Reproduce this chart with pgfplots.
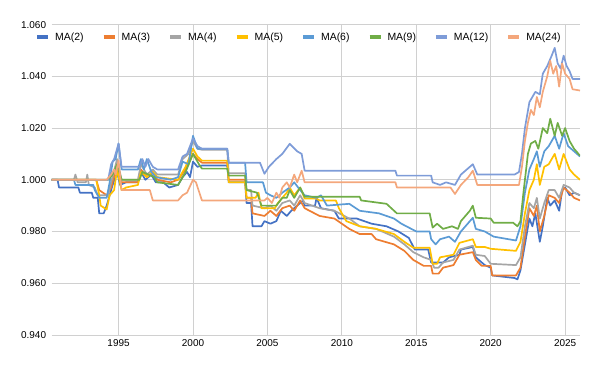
\documentclass[border=0pt]{standalone}
\usepackage{fontspec}
\setmainfont{Liberation Sans}
\usepackage{pgfplots}
\pgfplotsset{compat=1.18}
\definecolor{cA}{HTML}{4472C4}
\definecolor{cB}{HTML}{ED7D31}
\definecolor{cC}{HTML}{A5A5A5}
\definecolor{cD}{HTML}{FFC000}
\definecolor{cE}{HTML}{5B9BD5}
\definecolor{cF}{HTML}{70AD47}
\definecolor{cG}{HTML}{7E9CD8}
\definecolor{cH}{HTML}{F4A77C}
\definecolor{gridc}{HTML}{D0D0D0}
\begin{document}
\begin{tikzpicture}
\begin{axis}[name=ax, at={(0,0)}, anchor=south west,
  scale only axis, width=528.4bp, height=310.3bp,
  xmin=1990.5, xmax=2026.0, ymin=0.94, ymax=1.06,
  xtick={1995,2000,2005,2010,2015,2020,2025},
  ytick={0.94,0.96,0.98,1.00,1.02,1.04,1.06},
  axis line style={draw=none}, major tick length=0pt,
  grid=major, major grid style={gridc, line width=0.8bp},
  /pgf/number format/assume math mode=true,
  xticklabel style={font=\fontsize{10}{11}\selectfont, /pgf/number format/set thousands separator={}, yshift=-1bp},
  yticklabel style={font=\fontsize{10}{11}\selectfont, xshift=-2bp, /pgf/number format/.cd, fixed, fixed zerofill, precision=3},
  every axis plot/.append style={line width=1.7bp, line join=round},
  legend columns=8,
  legend style={draw=none, fill=none, at={(0.468,0.959)}, anchor=center,
    font=\fontsize{10.5}{12}\selectfont,
    /tikz/every odd column/.append style={column sep=3bp},
    /tikz/every even column/.append style={column sep=16bp}},
  legend image code/.code={\draw[line width=4bp] (0bp,0bp) -- (11bp,0bp);},
]
\addplot[cA] coordinates {(1990.5,1.000)(1990.9,1.000)(1991.0,0.997)(1992.3,0.997)(1992.4,0.995)(1993.2,0.995)(1993.3,0.993)(1993.6,0.993)(1993.7,0.987)(1994.0,0.987)(1994.2,0.990)(1994.4,0.994)(1994.6,0.998)(1994.9,1.003)(1995.1,0.998)(1995.5,0.999)(1996.3,0.999)(1996.5,1.003)(1996.8,1.000)(1997.2,1.002)(1997.5,0.999)(1998.0,0.999)(1998.4,0.997)(1999.0,0.998)(1999.3,1.001)(1999.6,1.003)(1999.8,1.001)(2000.0,1.007)(2000.3,1.005)(2000.6,1.0055)(2002.3,1.0055)(2002.4,0.999)(2003.5,0.999)(2003.6,0.991)(2003.9,0.991)(2004.0,0.982)(2004.6,0.982)(2004.8,0.984)(2005.2,0.983)(2005.6,0.984)(2005.9,0.988)(2006.3,0.986)(2006.6,0.988)(2007.0,0.990)(2007.4,0.992)(2007.5,0.990)(2008.2,0.990)(2008.3,0.993)(2008.6,0.989)(2009.5,0.988)(2009.8,0.985)(2011.0,0.985)(2012.0,0.983)(2013.0,0.982)(2013.8,0.980)(2014.5,0.9775)(2014.9,0.973)(2015.8,0.973)(2016.0,0.968)(2016.8,0.968)(2017.2,0.970)(2017.9,0.971)(2018.0,0.973)(2018.8,0.974)(2019.0,0.970)(2019.6,0.967)(2020.0,0.966)(2020.1,0.963)(2021.6,0.962)(2021.8,0.9615)(2022.0,0.965)(2022.3,0.975)(2022.6,0.985)(2022.8,0.982)(2023.0,0.987)(2023.3,0.976)(2023.5,0.982)(2023.8,0.993)(2024.0,0.990)(2024.3,0.992)(2024.6,0.988)(2024.8,0.996)(2025.0,0.997)(2025.3,0.994)(2025.6,0.995)(2026.0,0.994)};
\addlegendentry{MA(2)}
\addplot[cB] coordinates {(1990.5,1.000)(1993.5,1.000)(1993.7,0.996)(1994.2,0.994)(1994.5,0.997)(1994.9,1.006)(1995.2,0.999)(1996.3,0.999)(1996.5,1.004)(1996.9,1.001)(1997.3,1.003)(1997.6,1.000)(1998.5,0.999)(1999.0,1.000)(1999.5,1.004)(2000.0,1.010)(2000.3,1.008)(2000.6,1.0066)(2002.3,1.0066)(2002.4,1.000)(2003.5,1.000)(2003.6,0.993)(2003.9,0.993)(2004.0,0.987)(2004.8,0.986)(2005.2,0.988)(2005.6,0.986)(2006.0,0.989)(2006.5,0.990)(2006.8,0.988)(2007.2,0.992)(2007.5,0.989)(2008.5,0.986)(2009.5,0.985)(2010.0,0.983)(2010.5,0.981)(2011.2,0.979)(2012.0,0.979)(2012.3,0.977)(2013.5,0.975)(2014.2,0.9725)(2014.8,0.969)(2015.5,0.9667)(2016.0,0.9667)(2016.1,0.9637)(2016.5,0.9637)(2016.8,0.966)(2017.5,0.967)(2017.9,0.971)(2018.8,0.972)(2019.0,0.969)(2019.4,0.9667)(2020.0,0.9667)(2020.1,0.963)(2021.7,0.963)(2022.0,0.966)(2022.3,0.978)(2022.6,0.989)(2022.9,0.986)(2023.1,0.990)(2023.3,0.980)(2023.6,0.986)(2023.9,0.994)(2024.3,0.993)(2024.6,0.991)(2024.9,0.997)(2025.3,0.995)(2025.6,0.993)(2026.0,0.992)};
\addlegendentry{MA(3)}
\addplot[cC] coordinates {(1990.5,1.000)(1992.0,1.000)(1992.1,1.002)(1992.25,0.999)(1992.8,0.999)(1992.9,1.002)(1993.0,0.998)(1993.4,0.997)(1993.6,0.994)(1994.3,0.994)(1994.5,0.999)(1994.9,1.008)(1995.2,1.000)(1996.3,1.000)(1996.5,1.006)(1996.9,1.002)(1997.3,1.004)(1997.6,1.002)(1999.0,1.002)(1999.3,1.008)(1999.7,1.010)(2000.0,1.015)(2000.3,1.012)(2000.6,1.0116)(2002.3,1.0116)(2002.4,1.0025)(2003.5,1.0025)(2003.6,0.996)(2003.9,0.996)(2004.0,0.990)(2004.8,0.989)(2005.2,0.990)(2005.6,0.988)(2006.0,0.991)(2006.5,0.992)(2006.8,0.990)(2007.2,0.994)(2007.5,0.991)(2008.5,0.989)(2009.5,0.988)(2010.5,0.985)(2011.2,0.982)(2012.3,0.981)(2013.5,0.978)(2014.2,0.975)(2014.8,0.972)(2015.5,0.970)(2016.0,0.969)(2016.2,0.966)(2016.5,0.966)(2016.8,0.968)(2017.5,0.969)(2017.9,0.973)(2018.8,0.9745)(2019.0,0.971)(2019.6,0.9705)(2020.0,0.9675)(2021.7,0.967)(2022.0,0.970)(2022.3,0.982)(2022.6,0.991)(2022.9,0.989)(2023.1,0.993)(2023.3,0.985)(2023.6,0.991)(2023.9,0.996)(2024.3,0.996)(2024.6,0.993)(2024.9,0.998)(2025.3,0.997)(2025.6,0.995)(2026.0,0.994)};
\addlegendentry{MA(4)}
\addplot[cD] coordinates {(1990.5,1.000)(1993.5,1.000)(1993.7,0.994)(1993.8,0.990)(1994.2,0.9885)(1994.4,0.994)(1994.7,0.996)(1994.9,1.004)(1995.2,0.996)(1995.5,0.997)(1996.3,0.998)(1996.5,1.003)(1996.9,1.001)(1997.3,1.003)(1997.6,1.001)(1999.0,1.000)(1999.5,1.005)(2000.0,1.012)(2000.3,1.009)(2000.6,1.0074)(2002.3,1.0074)(2002.4,0.999)(2003.5,0.999)(2003.6,0.993)(2004.2,0.993)(2004.4,0.995)(2004.6,0.989)(2005.5,0.989)(2005.7,0.991)(2006.3,0.995)(2006.5,0.997)(2006.8,0.994)(2007.2,0.997)(2007.5,0.9927)(2008.3,0.9927)(2008.5,0.992)(2009.6,0.992)(2009.8,0.989)(2010.3,0.984)(2011.2,0.982)(2012.3,0.981)(2013.5,0.979)(2014.2,0.976)(2014.8,0.9737)(2015.9,0.9737)(2016.1,0.9675)(2016.4,0.9675)(2016.6,0.970)(2017.5,0.971)(2017.9,0.9756)(2018.8,0.977)(2019.0,0.974)(2019.6,0.974)(2020.0,0.9733)(2021.7,0.9725)(2022.0,0.976)(2022.3,0.987)(2022.6,0.996)(2022.9,1.000)(2023.1,1.006)(2023.3,0.998)(2023.6,1.005)(2023.9,1.006)(2024.3,1.010)(2024.6,1.004)(2024.9,1.010)(2025.3,1.004)(2025.6,1.002)(2026.0,1.000)};
\addlegendentry{MA(5)}
\addplot[cE] coordinates {(1990.5,1.000)(1992.0,1.000)(1992.1,0.998)(1993.3,0.998)(1993.4,0.996)(1993.7,0.993)(1994.2,0.993)(1994.4,0.999)(1994.6,1.007)(1994.8,1.008)(1995.0,1.014)(1995.2,1.004)(1996.3,1.004)(1996.5,1.008)(1996.7,1.004)(1996.9,1.008)(1997.2,1.003)(1997.5,1.001)(1998.5,1.000)(1999.0,1.001)(1999.3,1.007)(1999.7,1.006)(2000.0,1.017)(2000.3,1.012)(2000.6,1.012)(2002.3,1.012)(2002.4,1.0066)(2003.5,1.0066)(2003.6,0.999)(2004.7,0.999)(2004.9,0.995)(2005.2,0.994)(2005.6,0.993)(2006.0,0.995)(2006.5,0.997)(2006.8,0.999)(2007.2,0.996)(2007.5,0.994)(2008.3,0.993)(2008.6,0.994)(2009.0,0.990)(2010.5,0.9907)(2011.2,0.988)(2012.5,0.987)(2013.5,0.985)(2014.0,0.983)(2014.5,0.9815)(2015.0,0.980)(2015.9,0.980)(2016.0,0.977)(2016.3,0.975)(2016.6,0.977)(2017.2,0.978)(2017.6,0.976)(2018.0,0.980)(2018.8,0.9853)(2019.0,0.981)(2019.6,0.980)(2020.2,0.978)(2021.7,0.9765)(2022.0,0.982)(2022.3,0.995)(2022.6,1.004)(2022.9,1.008)(2023.1,1.011)(2023.3,1.005)(2023.6,1.011)(2023.9,1.013)(2024.3,1.017)(2024.6,1.012)(2024.9,1.018)(2025.2,1.013)(2025.6,1.011)(2026.0,1.009)};
\addlegendentry{MA(6)}
\addplot[cF] coordinates {(1990.5,1.000)(1994.3,1.000)(1994.6,1.002)(1994.9,1.006)(1995.2,1.000)(1996.4,1.000)(1996.6,1.003)(1997.0,1.002)(1997.4,1.001)(1997.6,0.999)(1999.0,0.998)(1999.5,1.003)(2000.0,1.010)(2000.4,1.006)(2000.6,1.0043)(2002.3,1.0043)(2002.4,1.0016)(2003.5,1.0016)(2003.6,0.996)(2004.3,0.995)(2004.6,0.990)(2005.3,0.990)(2005.6,0.990)(2006.0,0.993)(2006.3,0.993)(2006.5,0.996)(2006.8,0.993)(2007.2,0.997)(2007.5,0.9934)(2011.2,0.9934)(2011.3,0.992)(2013.0,0.9907)(2013.7,0.987)(2015.9,0.987)(2016.1,0.9815)(2016.4,0.983)(2016.8,0.981)(2017.4,0.982)(2017.8,0.981)(2018.0,0.984)(2018.6,0.988)(2018.8,0.990)(2019.0,0.9853)(2020.0,0.985)(2020.2,0.9834)(2021.5,0.9834)(2021.8,0.982)(2022.0,0.984)(2022.2,0.995)(2022.5,1.010)(2022.7,1.014)(2023.0,1.015)(2023.2,1.012)(2023.5,1.020)(2023.8,1.018)(2024.0,1.0236)(2024.3,1.017)(2024.5,1.022)(2024.8,1.017)(2025.0,1.020)(2025.3,1.015)(2025.6,1.012)(2026.0,1.0093)};
\addlegendentry{MA(9)}
\addplot[cG] coordinates {(1990.5,1.000)(1994.3,1.000)(1994.5,1.006)(1994.7,1.008)(1995.0,1.014)(1995.2,1.005)(1996.4,1.005)(1996.6,1.008)(1996.8,1.005)(1997.0,1.008)(1997.3,1.005)(1997.6,1.004)(1999.0,1.004)(1999.3,1.009)(1999.6,1.010)(2000.0,1.016)(2000.3,1.013)(2000.6,1.012)(2002.3,1.012)(2002.4,1.0066)(2004.5,1.0066)(2004.8,1.0023)(2005.1,1.005)(2005.6,1.008)(2006.0,1.010)(2006.5,1.0139)(2007.0,1.011)(2007.3,1.010)(2007.5,1.0035)(2013.6,1.0035)(2013.7,1.0016)(2016.0,1.0016)(2016.1,0.999)(2016.6,0.998)(2017.0,0.999)(2017.6,0.998)(2018.0,1.002)(2018.8,1.006)(2019.1,1.002)(2021.6,1.002)(2021.9,1.003)(2022.1,1.010)(2022.3,1.020)(2022.6,1.030)(2022.8,1.032)(2023.0,1.034)(2023.3,1.033)(2023.5,1.041)(2023.8,1.044)(2024.1,1.048)(2024.3,1.051)(2024.5,1.045)(2024.7,1.043)(2024.9,1.048)(2025.1,1.044)(2025.3,1.042)(2025.5,1.039)(2026.0,1.039)};
\addlegendentry{MA(12)}
\addplot[cH] coordinates {(1990.5,1.000)(1994.2,1.000)(1994.5,1.002)(1994.7,1.004)(1994.8,1.002)(1995.0,1.0075)(1995.2,0.996)(1997.1,0.996)(1997.3,0.992)(1999.0,0.992)(1999.3,0.994)(1999.6,0.995)(2000.0,1.000)(2000.2,0.999)(2000.6,0.992)(2004.8,0.992)(2005.0,0.993)(2005.3,0.991)(2005.6,0.995)(2005.8,0.993)(2006.0,0.997)(2006.3,0.999)(2006.5,0.997)(2006.8,1.002)(2007.0,0.999)(2007.3,1.0035)(2007.5,0.999)(2013.6,0.999)(2013.7,0.997)(2017.3,0.997)(2017.6,0.9945)(2018.0,0.998)(2018.5,1.001)(2018.8,1.0035)(2019.1,0.998)(2021.9,0.998)(2022.1,1.005)(2022.3,1.015)(2022.5,1.022)(2022.7,1.027)(2022.9,1.025)(2023.1,1.032)(2023.3,1.028)(2023.5,1.034)(2023.8,1.040)(2024.0,1.046)(2024.2,1.041)(2024.4,1.044)(2024.6,1.036)(2024.8,1.045)(2025.0,1.041)(2025.3,1.039)(2025.5,1.035)(2026.0,1.0345)};
\addlegendentry{MA(24)}
\end{axis}
\pgfresetboundingbox
\path[use as bounding box] (-51.6bp,-36.1bp) rectangle (548.4bp,334.9bp);
\end{tikzpicture}
\end{document}
